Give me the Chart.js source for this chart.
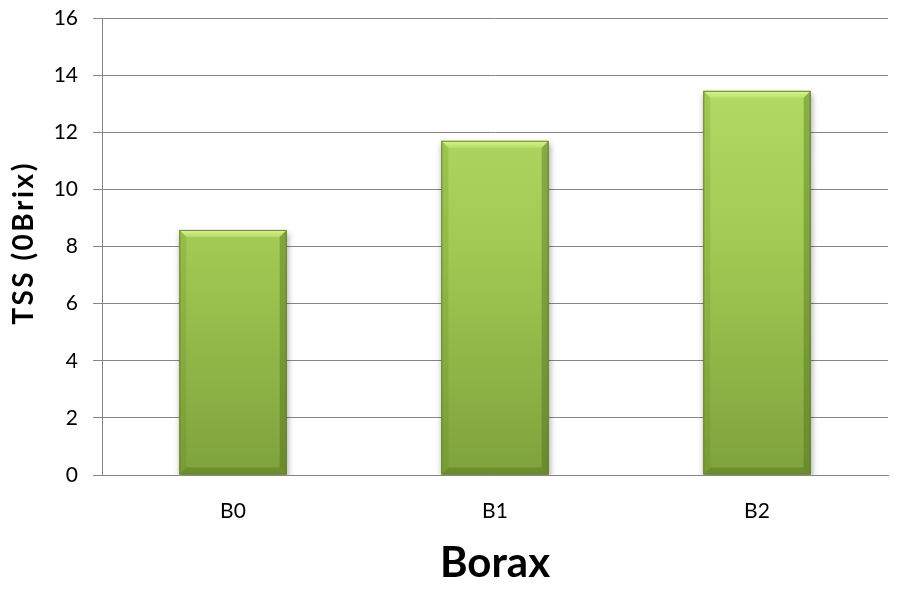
<!DOCTYPE html>
<html>
<head>
<meta charset="utf-8">
<script src="https://cdn.jsdelivr.net/npm/chart.js@4/dist/chart.umd.min.js"></script>
<style>
  html, body { margin: 0; padding: 0; background: #fff; }
  #wrap { width: 902px; height: 589px; }
</style>
</head>
<body>
<div id="wrap"><canvas id="c" width="902" height="589"></canvas></div>
<script>
const categories = ['B0', 'B1', 'B2'];
const tssValues = [8.58, 11.7, 13.45];
const yTicks = [0, 2, 4, 6, 8, 10, 12, 14, 16];
const xTitle = 'Borax';
const yTitle = 'TSS (0Brix)';

const FONT = "Lato, 'Open Sans', 'Noto Sans', sans-serif";

// Soft drop shadow behind the bars
const barShadow = {
  id: 'barShadow',
  beforeDatasetsDraw(chart) {
    const ctx = chart.ctx;
    ctx.save();
    ctx.shadowColor = 'rgba(0,0,0,0.35)';
    ctx.shadowBlur = 6;
    ctx.shadowOffsetX = 1;
    ctx.shadowOffsetY = 3;
  },
  afterDatasetsDraw(chart) {
    chart.ctx.restore();
  }
};

// Bevelled edges on each bar
const barBevel = {
  id: 'barBevel',
  afterDatasetsDraw(chart) {
    const ctx = chart.ctx;
    const meta = chart.getDatasetMeta(0);
    meta.data.forEach(bar => {
      const { x, y, base, width } = bar.getProps(['x', 'y', 'base', 'width'], true);
      const l = x - width / 2, r = x + width / 2, t = y, b = base;
      const d = 7;
      ctx.save();
      let g = ctx.createLinearGradient(0, t, 0, t + d);
      g.addColorStop(0, 'rgba(225,250,160,0.9)');
      g.addColorStop(1, 'rgba(200,235,120,0.5)');
      ctx.fillStyle = g;
      ctx.beginPath();
      ctx.moveTo(l, t); ctx.lineTo(r, t); ctx.lineTo(r - d, t + d); ctx.lineTo(l + d, t + d);
      ctx.closePath(); ctx.fill();
      ctx.fillStyle = 'rgba(90,120,30,0.18)';
      ctx.beginPath();
      ctx.moveTo(l, t); ctx.lineTo(l + d, t + d); ctx.lineTo(l + d, b - d); ctx.lineTo(l, b);
      ctx.closePath(); ctx.fill();
      ctx.fillStyle = 'rgba(70,95,20,0.35)';
      ctx.beginPath();
      ctx.moveTo(r, t); ctx.lineTo(r - d, t + d); ctx.lineTo(r - d, b - d); ctx.lineTo(r, b);
      ctx.closePath(); ctx.fill();
      ctx.fillStyle = 'rgba(70,95,20,0.3)';
      ctx.beginPath();
      ctx.moveTo(l, b); ctx.lineTo(l + d, b - d); ctx.lineTo(r - d, b - d); ctx.lineTo(r, b);
      ctx.closePath(); ctx.fill();
      ctx.strokeStyle = 'rgba(95,125,35,0.9)';
      ctx.lineWidth = 1;
      ctx.strokeRect(l + 0.5, t + 0.5, width - 1, b - t - 1);
      ctx.restore();
    });
  }
};

// Axis titles
const axisTitles = {
  id: 'axisTitles',
  afterDraw(chart) {
    const ctx = chart.ctx;
    const area = chart.chartArea;
    ctx.save();
    ctx.fillStyle = '#000';
    ctx.textAlign = 'center';
    ctx.textBaseline = 'middle';
    ctx.font = "bold 42px " + FONT;
    ctx.fillText(xTitle, (area.left + area.right) / 2, 563);
    ctx.translate(24, 243);
    ctx.rotate(-Math.PI / 2);
    ctx.font = "bold 28px " + FONT;
    if ('letterSpacing' in ctx) ctx.letterSpacing = '2.5px';
    ctx.fillText(yTitle, 0, 0);
    ctx.restore();
  }
};

new Chart(document.getElementById('c'), {
  type: 'bar',
  data: {
    labels: categories,
    datasets: [{
      data: tssValues,
      backgroundColor(ctx) {
        const area = ctx.chart.chartArea;
        if (!area) return '#9cc44e';
        const g = ctx.chart.ctx.createLinearGradient(0, area.top, 0, area.bottom);
        g.addColorStop(0, '#b8e06a');
        g.addColorStop(0.5, '#a2c953');
        g.addColorStop(1, '#7fa23c');
        return g;
      },
      borderWidth: 0,
      categoryPercentage: 0.82,
      barPercentage: 0.5
    }]
  },
  plugins: [barShadow, barBevel, axisTitles],
  options: {
    responsive: false,
    animation: false,
    layout: { padding: { left: 0, right: 14, top: 18, bottom: 0 } },
    plugins: { legend: { display: false }, tooltip: { enabled: false } },
    scales: {
      x: {
        afterFit(scale) { scale.height = 114; scale.paddingLeft = 0; scale.paddingRight = 0; },
        grid: { display: false, drawTicks: false },
        border: { display: true, color: '#868686', width: 1 },
        ticks: { color: '#000', font: { family: FONT, size: 21 }, padding: 24 }
      },
      y: {
        min: 0, max: 16,
        afterFit(scale) { scale.width = 102; scale.paddingTop = 0; scale.paddingBottom = 0; },
        afterBuildTicks(axis) { axis.ticks = yTicks.map(v => ({ value: v })); },
        grid: { color: '#868686', lineWidth: 1, tickLength: 9, drawTicks: true },
        border: { display: true, color: '#868686', width: 1 },
        ticks: { color: '#000', font: { family: FONT, size: 21 }, padding: 15 }
      }
    }
  }
});
</script>
</body>
</html>
